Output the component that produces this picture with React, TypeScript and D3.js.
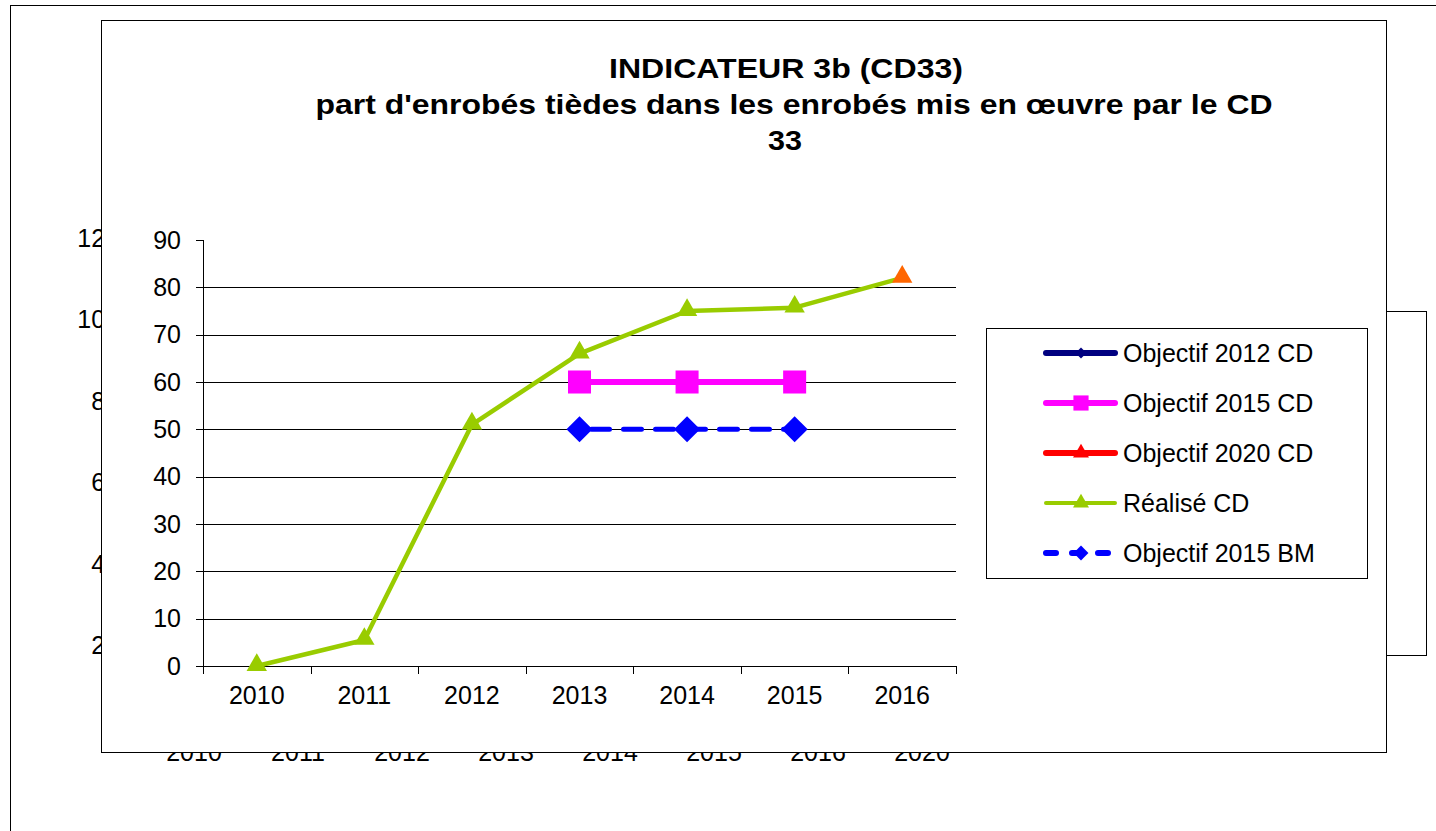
import React, { useEffect, useRef } from 'react';
import * as d3 from 'd3';

// front chart data
const years = ['2010', '2011', '2012', '2013', '2014', '2015', '2016'];
const realiseCD = [0, 5.5, 51, 66, 75, 75.7, 82];
const objectif2015CD = [null, null, null, 60, 60, 60, null];
const objectif2015BM = [null, null, null, 50, 50, 50, null];
const objectif2012CD = [null, null, null, null, null, null, null];
const objectif2020CD = [null, null, null, null, null, null, null];
const yTicks = [0, 10, 20, 30, 40, 50, 60, 70, 80, 90];

// chart hidden behind the front one
const backYears = ['2010', '2011', '2012', '2013', '2014', '2015', '2016', '2020'];
const backYTicks = [0, 20, 40, 60, 80, 100, 120];

const titleLines = [
  'INDICATEUR 3b (CD33)',
  "part d'enrobés tièdes dans les enrobés mis en œuvre par le CD",
  '33',
];
const titleWidths = [354, 957, 34];
const titleCenters = [786, 794, 785];

const FONT = '"Liberation Sans", Arial, sans-serif';
const FS = 25;

const App = () => {
  const ref = useRef<SVGSVGElement>(null);

  useEffect(() => {
    const svg = d3.select(ref.current);
    svg.selectAll('*').remove();

    // ---- back chart (mostly covered) ----
    const back = svg.append('g').attr('font-family', FONT).attr('font-size', FS);
    back
      .append('rect')
      .attr('x', 10.5)
      .attr('y', 5.5)
      .attr('width', 1500)
      .attr('height', 900)
      .attr('fill', '#fff')
      .attr('stroke', '#000');

    const by = d3.scaleLinear().domain([0, 120]).range([727, 238]);
    back
      .selectAll('text.by')
      .data(backYTicks)
      .enter()
      .append('text')
      .attr('x', 119)
      .attr('y', (d) => by(d))
      .attr('dy', '0.35em')
      .attr('text-anchor', 'end')
      .text((d) => d);

    const bx = d3.scaleBand().domain(backYears).range([142, 974]);
    back
      .selectAll('text.bx')
      .data(backYears)
      .enter()
      .append('text')
      .attr('x', (d) => bx(d)! + bx.bandwidth() / 2)
      .attr('y', 761)
      .attr('text-anchor', 'middle')
      .text((d) => d);

    back
      .append('rect')
      .attr('x', 1380.5)
      .attr('y', 311.5)
      .attr('width', 46)
      .attr('height', 344)
      .attr('fill', '#fff')
      .attr('stroke', '#000');

    // ---- front chart ----
    svg
      .append('rect')
      .attr('x', 101.5)
      .attr('y', 20.5)
      .attr('width', 1285)
      .attr('height', 732)
      .attr('fill', '#fff')
      .attr('stroke', '#000');

    svg
      .append('g')
      .attr('font-family', FONT)
      .attr('font-weight', 'bold')
      .attr('font-size', 28)
      .selectAll('text')
      .data(titleLines)
      .enter()
      .append('text')
      .attr('x', (d, i) => titleCenters[i])
      .attr('y', (d, i) => 78 + i * 36)
      .attr('text-anchor', 'middle')
      .attr('textLength', (d, i) => titleWidths[i])
      .attr('lengthAdjust', 'spacingAndGlyphs')
      .text((d) => d);

    const left = 203;
    const right = 956;
    const x = d3.scaleBand().domain(years).range([left, right]);
    const y = d3.scaleLinear().domain([0, 90]).range([666, 240]);
    const cx = (i: number) => x(years[i])! + x.bandwidth() / 2;

    const plot = svg.append('g').attr('font-family', FONT).attr('font-size', FS);

    // gridlines
    plot
      .selectAll('line.grid')
      .data(yTicks.filter((t) => t > 0 && t < 90))
      .enter()
      .append('line')
      .attr('x1', left)
      .attr('x2', right)
      .attr('y1', (d) => Math.round(y(d)) + 0.5)
      .attr('y2', (d) => Math.round(y(d)) + 0.5)
      .attr('stroke', '#000');

    // y axis
    plot
      .append('line')
      .attr('x1', left + 0.5)
      .attr('x2', left + 0.5)
      .attr('y1', y(90))
      .attr('y2', 673)
      .attr('stroke', '#000');
    plot
      .selectAll('line.yt')
      .data(yTicks)
      .enter()
      .append('line')
      .attr('x1', left - 7)
      .attr('x2', left)
      .attr('y1', (d) => Math.round(y(d)) + 0.5)
      .attr('y2', (d) => Math.round(y(d)) + 0.5)
      .attr('stroke', '#000');
    plot
      .selectAll('text.yl')
      .data(yTicks)
      .enter()
      .append('text')
      .attr('x', 181)
      .attr('y', (d) => y(d))
      .attr('dy', '0.35em')
      .attr('text-anchor', 'end')
      .text((d) => d);

    // x axis
    plot
      .append('line')
      .attr('x1', left - 7)
      .attr('x2', right)
      .attr('y1', Math.round(y(0)) + 0.5)
      .attr('y2', Math.round(y(0)) + 0.5)
      .attr('stroke', '#000');
    const bounds = years.map((d) => x(d)!).concat([right]);
    plot
      .selectAll('line.xt')
      .data(bounds)
      .enter()
      .append('line')
      .attr('x1', (d) => Math.round(d) + 0.5)
      .attr('x2', (d) => Math.round(d) + 0.5)
      .attr('y1', y(0))
      .attr('y2', y(0) + 8)
      .attr('stroke', '#000');
    plot
      .selectAll('text.xl')
      .data(years)
      .enter()
      .append('text')
      .attr('x', (d, i) => cx(i))
      .attr('y', 704)
      .attr('text-anchor', 'middle')
      .text((d) => d);

    const line = d3
      .line<number | null>()
      .defined((d) => d != null)
      .x((d, i) => cx(i))
      .y((d) => y(d as number));

    const diamond = (s: number) =>
      d3.symbol().type(d3.symbolSquare).size(s)() as string;

    // series
    plot
      .append('path')
      .attr('d', line(objectif2012CD as any))
      .attr('fill', 'none')
      .attr('stroke', '#000080')
      .attr('stroke-width', 5);
    plot
      .append('path')
      .attr('d', line(objectif2020CD as any))
      .attr('fill', 'none')
      .attr('stroke', '#FF0000')
      .attr('stroke-width', 5);

    plot
      .append('path')
      .attr('d', line(objectif2015BM))
      .attr('fill', 'none')
      .attr('stroke', '#0000FF')
      .attr('stroke-width', 5)
      .attr('stroke-linecap', 'round')
      .attr('stroke-dasharray', '18 14')
      .attr('stroke-dashoffset', -12);
    plot
      .selectAll('path.bm')
      .data(objectif2015BM.map((v, i) => [v, i]).filter((d) => d[0] != null))
      .enter()
      .append('path')
      .attr('d', diamond(340))
      .attr('transform', (d) => `translate(${cx(d[1] as number)},${y(d[0] as number)}) rotate(45)`)
      .attr('fill', '#0000FF');

    plot
      .append('path')
      .attr('d', line(objectif2015CD))
      .attr('fill', 'none')
      .attr('stroke', '#FF00FF')
      .attr('stroke-width', 6);
    plot
      .selectAll('path.o15')
      .data(objectif2015CD.map((v, i) => [v, i]).filter((d) => d[0] != null))
      .enter()
      .append('path')
      .attr('d', d3.symbol().type(d3.symbolSquare).size(530)() as string)
      .attr('transform', (d) => `translate(${cx(d[1] as number)},${y(d[0] as number)})`)
      .attr('fill', '#FF00FF');

    plot
      .append('path')
      .attr('d', line(realiseCD))
      .attr('fill', 'none')
      .attr('stroke', '#99CC00')
      .attr('stroke-width', 4.5)
      .attr('stroke-linejoin', 'round');
    plot
      .selectAll('path.real')
      .data(realiseCD)
      .enter()
      .append('path')
      .attr('d', d3.symbol().type(d3.symbolTriangle).size(180)() as string)
      .attr('transform', (d, i) => `translate(${cx(i)},${y(d) - 1})`)
      .attr('fill', (d, i) => (i === realiseCD.length - 1 ? '#FF6600' : '#99CC00'));

    // legend
    const lg = svg.append('g').attr('font-family', FONT).attr('font-size', FS);
    lg.append('rect')
      .attr('x', 986.5)
      .attr('y', 328.5)
      .attr('width', 381)
      .attr('height', 250)
      .attr('fill', '#fff')
      .attr('stroke', '#000');

    const items = [
      { name: 'Objectif 2012 CD', color: '#000080', sym: 'diamond', size: 60, dash: null },
      { name: 'Objectif 2015 CD', color: '#FF00FF', sym: 'square', size: 230, dash: null },
      { name: 'Objectif 2020 CD', color: '#FF0000', sym: 'triangle', size: 110, dash: null },
      { name: 'Réalisé CD', color: '#99CC00', sym: 'triangle', size: 110, dash: null },
      { name: 'Objectif 2015 BM', color: '#0000FF', sym: 'diamond', size: 110, dash: '10 16' },
    ];
    const row = lg
      .selectAll('g.item')
      .data(items)
      .enter()
      .append('g')
      .attr('transform', (d, i) => `translate(0,${353 + i * 50})`);
    row
      .append('line')
      .attr('x1', 1046)
      .attr('x2', 1115)
      .attr('stroke', (d) => d.color)
      .attr('stroke-width', (d) => (d.name === 'Réalisé CD' ? 4 : 6))
      .attr('stroke-linecap', 'round')
      .attr('stroke-dasharray', (d) => d.dash);
    row
      .append('path')
      .attr('d', (d) =>
        d.sym === 'triangle'
          ? (d3.symbol().type(d3.symbolTriangle).size(d.size)() as string)
          : (d3.symbol().type(d3.symbolSquare).size(d.size)() as string),
      )
      .attr('transform', (d) => `translate(1081,0)${d.sym === 'diamond' ? ' rotate(45)' : ''}`)
      .attr('fill', (d) => d.color);
    row
      .append('text')
      .attr('x', 1123)
      .attr('dy', '0.35em')
      .text((d) => d.name);
  }, []);

  return (
    <div style={{ position: 'absolute', left: 0, top: 0 }}>
      <svg ref={ref} width={1436} height={831} style={{ display: 'block' }} />
    </div>
  );
};

export default App;
